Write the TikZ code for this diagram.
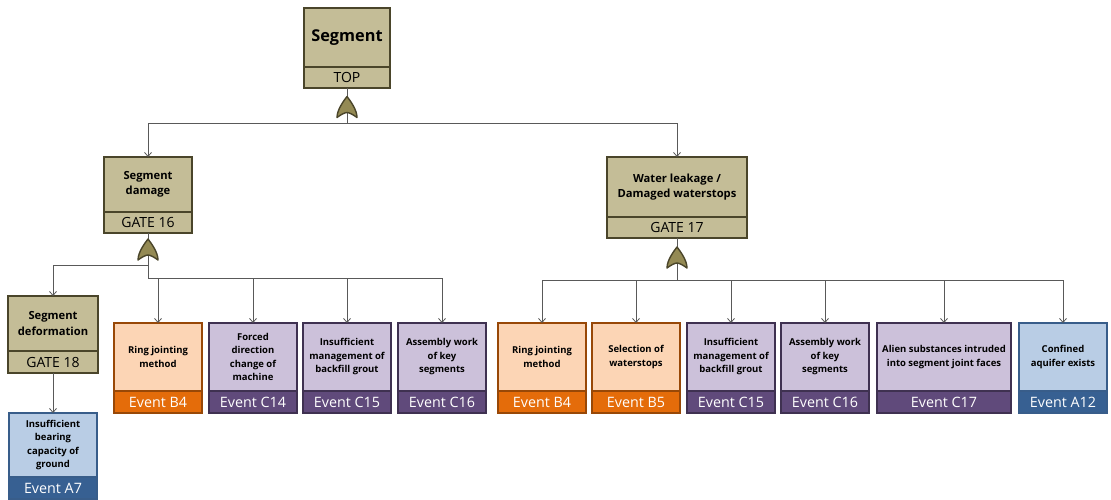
\documentclass[tikz,border=0pt]{standalone}
\usepackage{fontspec}
\setmainfont{Open Sans}
\usetikzlibrary{arrows.meta,positioning}
\definecolor{tanFill}{HTML}{C4BD97}
\definecolor{tanLine}{HTML}{4A452A}
\definecolor{gateFill}{HTML}{948A54}
\definecolor{orangeFill}{HTML}{FCD5B5}
\definecolor{orangeDark}{HTML}{E46C0A}
\definecolor{orangeLine}{HTML}{984807}
\definecolor{purpleFill}{HTML}{CCC1DA}
\definecolor{purpleDark}{HTML}{604A7B}
\definecolor{purpleLine}{HTML}{3F3151}
\definecolor{blueFill}{HTML}{B9CDE5}
\definecolor{blueDark}{HTML}{376092}
\definecolor{blueLine}{HTML}{385D8A}
\definecolor{wire}{HTML}{595959}

\tikzset{
  orgate/.pic={
    \path[draw=tanLine, fill=gateFill, line width=1.4pt, line join=round]
      (0,-11) .. controls (3,-7) and (10,2) .. (10,10)
      .. controls (6,7) and (2,5) .. (0,5)
      .. controls (-2,5) and (-6,7) .. (-10,10)
      .. controls (-10,2) and (-3,-7) .. (0,-11) -- cycle;
  }
}

\begin{document}
\begin{tikzpicture}[
  x=1pt, y=-1pt,
  box/.style={draw, line width=1.8pt, align=center, inner sep=1pt, outer sep=0pt},
  gateBox/.style={box, draw=tanLine, fill=tanFill, font=\fontsize{11.2}{15.5}\selectfont\bfseries},
  gateTag/.style={box, draw=tanLine, fill=tanFill, minimum height=21pt, font=\fontsize{14}{15}\selectfont},
  evBody/.style={box, minimum width=88pt, minimum height=68pt, font=\fontsize{9.5}{13.5}\selectfont\bfseries},
  evTag/.style={box, minimum width=88pt, minimum height=22pt, text=white, font=\fontsize{14.3}{15}\selectfont},
  orangeBody/.style={evBody, draw=orangeLine, fill=orangeFill},
  orangeTag/.style={evTag, draw=orangeLine, fill=orangeDark},
  purpleBody/.style={evBody, draw=purpleLine, fill=purpleFill},
  purpleTag/.style={evTag, draw=purpleLine, fill=purpleDark},
  blueBody/.style={evBody, draw=blueLine, fill=blueFill},
  blueTag/.style={evTag, draw=blueLine, fill=blueDark},
  flow/.style={-{Straight Barb[length=4pt,width=7pt]}, line width=0.8pt, draw=wire}
]
  \useasboundingbox (0,0) rectangle (1111,500);

  % gates
  \node[gateBox, minimum width=86pt, minimum height=59pt, font=\fontsize{16.3}{18}\selectfont\bfseries] (top) at (347,37.5) {Segment};
  \node[gateTag, minimum width=86pt, below=0pt of top] (topTag) {TOP};
  \node[gateBox, minimum width=88pt, minimum height=55pt] (damage) at (148,184.5) {Segment\\damage};
  \node[gateTag, minimum width=88pt, below=0pt of damage] (damageTag) {GATE 16};
  \node[gateBox, minimum width=140pt, minimum height=60pt] (leak) at (677,187) {Water leakage /\\Damaged waterstops};
  \node[gateTag, minimum width=140pt, below=0pt of leak] (leakTag) {GATE 17};
  \node[gateBox, minimum width=90pt, minimum height=55pt] (deform) at (53,323.5) {Segment\\deformation};
  \node[gateTag, minimum width=90pt, minimum height=22pt, below=0pt of deform] (deformTag) {GATE 18};

  % basic events under gate 16
  \node[orangeBody] (e1) at (158,357) {Ring jointing\\method};
  \node[orangeTag, below=0pt of e1] (e1Tag) {Event B4};
  \node[purpleBody] (e2) at (253,357) {Forced\\direction\\change of\\machine};
  \node[purpleTag, below=0pt of e2] (e2Tag) {Event C14};
  \node[purpleBody] (e3) at (347,357) {Insufficient\\management of\\backfill grout};
  \node[purpleTag, below=0pt of e3] (e3Tag) {Event C15};
  \node[purpleBody] (e4) at (442,357) {Assembly work\\of key\\segments};
  \node[purpleTag, below=0pt of e4] (e4Tag) {Event C16};

  % basic events under gate 17
  \node[orangeBody] (f1) at (542,357) {Ring jointing\\method};
  \node[orangeTag, below=0pt of f1] (f1Tag) {Event B4};
  \node[orangeBody] (f2) at (636,357) {Selection of\\waterstops};
  \node[orangeTag, below=0pt of f2] (f2Tag) {Event B5};
  \node[purpleBody] (f3) at (731,357) {Insufficient\\management of\\backfill grout};
  \node[purpleTag, below=0pt of f3] (f3Tag) {Event C15};
  \node[purpleBody] (f4) at (825,357) {Assembly work\\of key\\segments};
  \node[purpleTag, below=0pt of f4] (f4Tag) {Event C16};
  \node[purpleBody, minimum width=134pt] (f5) at (944,357) {Alien substances intruded\\into segment joint faces};
  \node[purpleTag, minimum width=134pt, below=0pt of f5] (f5Tag) {Event C17};
  \node[blueBody] (f6) at (1063,357) {Confined\\aquifer exists};
  \node[blueTag, below=0pt of f6] (f6Tag) {Event A12};

  % basic event under gate 18
  \node[blueBody, minimum height=64pt] (a7) at (53,445) {Insufficient\\bearing\\capacity of\\ground};
  \node[blueTag, below=0pt of a7] (a7Tag) {Event A7};

  \draw[flow] (topTag.south) -- ++(0,35) -| (damage.north);
  \draw[flow] (topTag.south) -- ++(0,35) -| (leak.north);
  \draw[flow] (damageTag.south) -- ++(0,32) -| (deform.north);
  \draw[flow] (damageTag.south) -- ++(0,45) -| (e1.north);
  \draw[flow] (damageTag.south) -- ++(0,45) -| (e2.north);
  \draw[flow] (damageTag.south) -- ++(0,45) -| (e3.north);
  \draw[flow] (damageTag.south) -- ++(0,45) -| (e4.north);
  \draw[flow] (leakTag.south) -- ++(0,42) -| (f1.north);
  \draw[flow] (leakTag.south) -- ++(0,42) -| (f2.north);
  \draw[flow] (leakTag.south) -- ++(0,42) -| (f3.north);
  \draw[flow] (leakTag.south) -- ++(0,42) -| (f4.north);
  \draw[flow] (leakTag.south) -- ++(0,42) -| (f5.north);
  \draw[flow] (leakTag.south) -- ++(0,42) -| (f6.north);
  \draw[flow] (deformTag.south) -- (a7.north);

  \pic at ([yshift=-19.5pt]topTag.south) {orgate};
  \pic at ([yshift=-17pt]damageTag.south) {orgate};
  \pic at ([yshift=-20pt]leakTag.south) {orgate};
\end{tikzpicture}
\end{document}
